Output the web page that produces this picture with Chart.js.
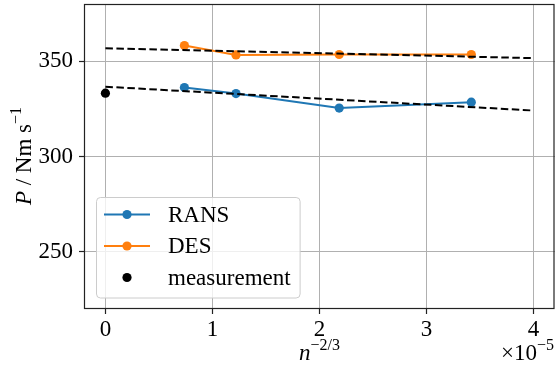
<!DOCTYPE html>
<html>
<head>
<meta charset="utf-8">
<script src="https://cdn.jsdelivr.net/npm/chart.js@4"></script>
<style>
  html, body { margin: 0; padding: 0; background: #fff; }
  #chart { display: block; }
</style>
</head>
<body>
<canvas id="chart" width="555" height="367"></canvas>
<script>
// grid resolution n^(-2/3), in units of 1e-5
const gridSize = [0.738, 1.22, 2.184, 3.418];
const ransPower = [336.2, 333.0, 325.4, 328.5];
const desPower = [358.2, 353.3, 353.5, 353.5];
const measurementX = [0];
const measurementPower = [333.2];
// linear fits (dashed), read at x = 0 and x = 4
const fitX = [0, 4];
const ransFit = [336.6, 324.1];
const desFit = [356.8, 351.6];
const xTicks = [0, 1, 2, 3, 4];
const yTicks = [250, 300, 350];

const FONT = "'Liberation Serif', 'Times New Roman', serif";
const SIZE = 23;
const toPoints = (xs, ys) => xs.map((x, i) => ({ x, y: ys[i] }));

// frame, axis titles with superscripts, legend inside the axes
const decorations = {
  id: 'decorations',
  afterDatasetsDraw(chart) {
    const { ctx, chartArea: a } = chart;
    ctx.save();
    ctx.strokeStyle = '#222';
    ctx.lineWidth = 1.2;
    ctx.strokeRect(a.left + 0.5, a.top + 0.5, a.right - a.left - 1.5, a.bottom - a.top - 1);
    ctx.restore();
  },
  afterDraw(chart) {
    const { ctx, chartArea: a } = chart;
    ctx.save();
    ctx.fillStyle = '#000';
    ctx.textBaseline = 'alphabetic';

    // draws runs of [text, font, rise] starting at x; returns width when dry
    const runs = (parts, x, y, dry) => {
      let w = 0;
      parts.forEach(([t, f, rise]) => {
        ctx.font = f;
        if (!dry) ctx.fillText(t, x + w, y - rise);
        w += ctx.measureText(t).width;
      });
      return w;
    };
    const main = `${SIZE}px ${FONT}`;
    const ital = `italic ${SIZE}px ${FONT}`;
    const sup = `16px ${FONT}`;

    // x label n^{-2/3}
    const xl = [['n', ital, 0], ['\u22122/3', sup, 10]];
    const xw = runs(xl, 0, 0, true);
    runs(xl, (a.left + a.right) / 2 - xw / 2, 360);

    // offset text x10^{-5}
    const off = [['\u00d710', main, 0], ['\u22125', sup, 10]];
    const ow = runs(off, 0, 0, true);
    runs(off, a.right - 1 - ow, 360);

    // y label P / Nm s^{-1}
    const yl = [['P', ital, 0], [' / Nm s', main, 0], ['\u22121', sup, 10]];
    const yw = runs(yl, 0, 0, true);
    ctx.translate(31, 156);
    ctx.rotate(-Math.PI / 2);
    runs(yl, -yw / 2, 0);
    ctx.setTransform(1, 0, 0, 1, 0, 0);

    // legend
    const items = chart.data.datasets.filter(d => d.label);
    ctx.font = main;
    const textW = Math.max(...items.map(d => ctx.measureText(d.label).width));
    const bx = 96, by = 197, rowH = 31.5, textX = 168;
    const bw = textX - bx + textW + 9, bh = items.length * rowH + 6;
    ctx.beginPath();
    ctx.roundRect(bx + 0.5, by + 0.5, bw, bh, 4);
    ctx.fillStyle = 'rgba(255,255,255,0.8)';
    ctx.fill();
    ctx.strokeStyle = '#cccccc';
    ctx.lineWidth = 1;
    ctx.stroke();
    items.forEach((d, i) => {
      const cy = by + 17.5 + i * rowH;
      if (d.showLine !== false) {
        ctx.beginPath();
        ctx.moveTo(104, cy);
        ctx.lineTo(150, cy);
        ctx.strokeStyle = d.borderColor;
        ctx.lineWidth = d.borderWidth;
        ctx.stroke();
      }
      ctx.beginPath();
      ctx.arc(127, cy, d.pointRadius, 0, Math.PI * 2);
      ctx.fillStyle = d.pointBackgroundColor;
      ctx.fill();
      ctx.fillStyle = '#000';
      ctx.font = main;
      ctx.textBaseline = 'middle';
      ctx.fillText(d.label, textX, cy + 1);
    });
    ctx.restore();
  }
};

const series = (label, xs, ys, color, extra = {}) => ({
  label,
  data: toPoints(xs, ys),
  borderColor: color,
  backgroundColor: color,
  pointBackgroundColor: color,
  pointBorderWidth: 0,
  pointRadius: 4.6,
  borderWidth: 2,
  tension: 0,
  ...extra,
});

const dashed = ys => ({
  data: toPoints(fitX, ys),
  borderColor: '#000',
  borderWidth: 2,
  borderDash: [7.5, 3.5],
  pointRadius: 0,
  order: 0,
});

// no label overflow padding, fixed axis band sizes
const noPad = s => { s.paddingTop = s.paddingBottom = s.paddingLeft = s.paddingRight = 0; };

new Chart(document.getElementById('chart').getContext('2d'), {
  type: 'line',
  data: {
    datasets: [
      series('RANS', gridSize, ransPower, '#1f77b4', { order: 1 }),
      series('DES', gridSize, desPower, '#ff7f0e', { order: 1 }),
      series('measurement', measurementX, measurementPower, '#000', { showLine: false, order: 1 }),
      dashed(ransFit),
      dashed(desFit),
    ],
  },
  options: {
    responsive: false,
    animation: false,
    layout: { autoPadding: false, padding: { top: 4, right: 0, left: 0, bottom: 0 } },
    plugins: { legend: { display: false }, tooltip: { enabled: false } },
    scales: {
      x: {
        type: 'linear',
        min: -0.2,
        max: 4.2,
        afterBuildTicks: s => { s.ticks = xTicks.map(value => ({ value })); },
        afterFit: s => { s.height = 58; noPad(s); },
        ticks: { color: '#000', font: { family: FONT, size: SIZE }, padding: 2, maxRotation: 0 },
        grid: { color: '#b0b0b0', lineWidth: 1, tickColor: '#222', tickLength: 5, tickWidth: 1.2 },
        border: { display: false },
      },
      y: {
        min: 220,
        max: 380,
        afterBuildTicks: s => { s.ticks = yTicks.map(value => ({ value })); },
        afterFit: s => { s.width = 84; noPad(s); },
        ticks: { color: '#000', font: { family: FONT, size: SIZE }, padding: 6 },
        grid: { color: '#b0b0b0', lineWidth: 1, tickColor: '#222', tickLength: 5, tickWidth: 1.2 },
        border: { display: false },
      },
    },
  },
  plugins: [decorations],
});
</script>
</body>
</html>
